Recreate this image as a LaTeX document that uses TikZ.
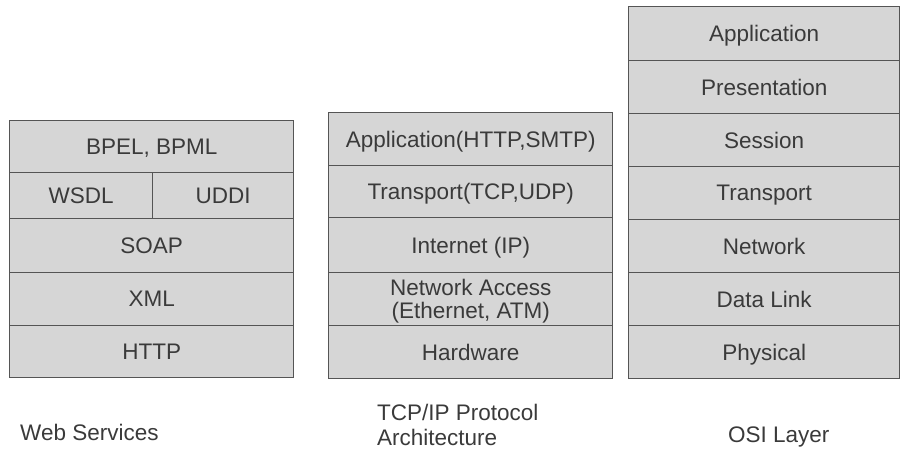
\documentclass[tikz,border=0pt]{standalone}
\usepackage{fontspec}
\setmainfont{Liberation Sans}
\definecolor{layerfill}{HTML}{D6D6D6}
\definecolor{layerline}{HTML}{555555}
\definecolor{layertext}{HTML}{3A3A3A}
\tikzset{
  layer/.style={draw=layerline,line width=1.4pt,fill=layerfill,text=layertext,
    inner sep=0pt,anchor=north west,align=center,text depth=0pt,
    font=\fontsize{22.5}{23}\selectfont},
  caption/.style={text=layertext,anchor=base west,align=left,inner sep=0pt,
    font=\fontsize{22.5}{25}\selectfont}
}
\begin{document}
\begin{tikzpicture}[x=1pt,y=-1pt]
\useasboundingbox (0,0) rectangle (903,448);

\node[layer,minimum width=284pt,minimum height=52pt] (bpel) at (9,120) {BPEL, BPML};
\node[layer,minimum width=143pt,minimum height=46pt] (wsdl) at (9,172) {WSDL};
\node[layer,minimum width=141pt,minimum height=46pt] (uddi) at (152,172) {UDDI};
\node[layer,minimum width=284pt,minimum height=54pt] (soap) at (9,218) {SOAP};
\node[layer,minimum width=284pt,minimum height=53pt] (xml) at (9,272) {XML};
\node[layer,minimum width=284pt,minimum height=52pt] (http) at (9,325) {HTTP};

\node[layer,minimum width=284pt,minimum height=53pt] (tcpapp) at (328,112) {Application(HTTP,SMTP)};
\node[layer,minimum width=284pt,minimum height=52pt] (tcptrans) at (328,165) {Transport(TCP,UDP)};
\node[layer,minimum width=284pt,minimum height=55pt] (tcpinet) at (328,217) {Internet (IP)};
\node[layer,minimum width=284pt,minimum height=53pt] (tcpnet) at (328,272) {Network Access\\(Ethernet, ATM)};
\node[layer,minimum width=284pt,minimum height=53pt] (tcphw) at (328,325) {Hardware};

\node[layer,minimum width=271pt,minimum height=54pt] (osiapp) at (628,6) {Application};
\node[layer,minimum width=271pt,minimum height=53pt] (osipres) at (628,60) {Presentation};
\node[layer,minimum width=271pt,minimum height=53pt] (osisess) at (628,113) {Session};
\node[layer,minimum width=271pt,minimum height=53pt] (ositrans) at (628,166) {Transport};
\node[layer,minimum width=271pt,minimum height=53pt] (osinet) at (628,219) {Network};
\node[layer,minimum width=271pt,minimum height=53pt] (osilink) at (628,272) {Data Link};
\node[layer,minimum width=271pt,minimum height=53pt] (osiphys) at (628,325) {Physical};

\node[caption] (capweb) at (20,440) {Web Services};
\node[caption] (captcp) at (377,445) {TCP/IP Protocol\\Architecture};
\node[caption] (caposi) at (728,442) {OSI Layer};
\end{tikzpicture}
\end{document}
